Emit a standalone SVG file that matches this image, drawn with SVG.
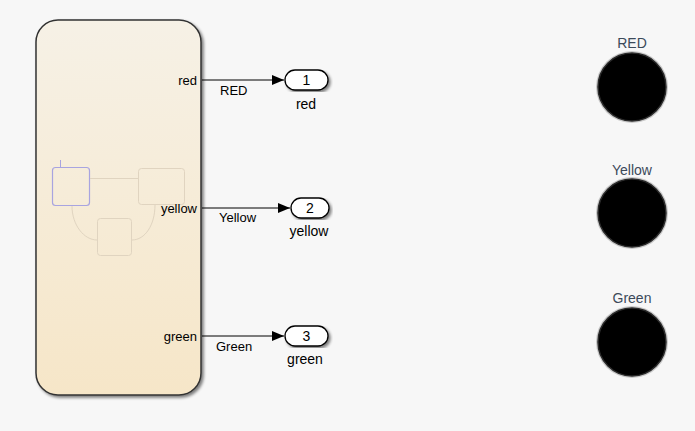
<svg xmlns="http://www.w3.org/2000/svg" width="695" height="431" viewBox="0 0 695 431">
<style>
.lbl{font-family:"Liberation Sans",Arial,sans-serif;font-size:13px;fill:#000}
.lamp-lbl{font-family:"Liberation Sans",Arial,sans-serif;font-size:14px;fill:#3c4a5a;text-anchor:middle}
.num{font-family:"Liberation Sans",Arial,sans-serif;font-size:14px;fill:#000;text-anchor:middle}
.port{fill:#fff;stroke:#000;stroke-width:1.3}
.sig{stroke:#000;stroke-width:1;fill:none}
.mini{fill:none;stroke:#e0d4c0;stroke-width:1}
.lamp-outer{fill:#c8c8c8}
.lamp{fill:#000;stroke:#2a2a2a;stroke-width:1.5}
</style>
<defs>
<linearGradient id="chartGrad" x1="0" y1="0" x2="0" y2="1">
<stop offset="0" stop-color="#f6f1e6"/>
<stop offset="1" stop-color="#f6e6c8"/>
</linearGradient>
<filter id="sh" x="-10%" y="-10%" width="120%" height="120%">
<feGaussianBlur in="SourceAlpha" stdDeviation="1.5"/>
<feOffset dx="2" dy="2"/>
<feComponentTransfer><feFuncA type="linear" slope="0.5"/></feComponentTransfer>
<feMerge><feMergeNode/><feMergeNode in="SourceGraphic"/></feMerge>
</filter>
<marker id="arr" markerWidth="12" markerHeight="10" refX="12" refY="5" orient="auto" markerUnits="userSpaceOnUse">
<path d="M0,0 L12,5 L0,10 Z" fill="#000"/>
</marker>
</defs>
<rect width="695" height="431" fill="#f7f7f7"/>

<g id="chart">
<rect x="36" y="20" width="165" height="375" rx="22" ry="22" fill="url(#chartGrad)" stroke="#333" stroke-width="1.5" filter="url(#sh)"/>
<g id="mini-chart">
<line x1="60.5" y1="160" x2="60.5" y2="167" stroke="#a8a4e0" stroke-width="1"/>
<rect x="52.5" y="167.5" width="37" height="38" rx="3" fill="none" stroke="#a8a4e0" stroke-width="1.2"/>
<rect x="138.5" y="168.5" width="46" height="36" rx="3" class="mini"/>
<rect x="97.5" y="218.5" width="34" height="37" rx="3" class="mini"/>
<line x1="90" y1="178.5" x2="138" y2="178.5" class="mini"/>
<path d="M72,206 C72,225 84,240 97,240" class="mini"/>
<path d="M132,240 C145,240 155,225 155,205" class="mini"/>
</g>
<text class="lbl" x="197" y="85" text-anchor="end">red</text>
<text class="lbl" x="197" y="213" text-anchor="end">yellow</text>
<text class="lbl" x="197" y="341" text-anchor="end">green</text>
</g>

<g id="connectors">
<line x1="202" y1="80" x2="284" y2="80" class="sig" marker-end="url(#arr)"/>
<line x1="202" y1="208" x2="290" y2="208" class="sig" marker-end="url(#arr)"/>
<line x1="202" y1="336" x2="284" y2="336" class="sig" marker-end="url(#arr)"/>
<text class="lbl" x="220" y="95">RED</text>
<text class="lbl" x="219" y="222">Yellow</text>
<text class="lbl" x="216" y="351">Green</text>
</g>

<g id="out1">
<rect x="285" y="70" width="43" height="20" rx="10" class="port" filter="url(#sh)"/>
<text class="num" x="306.5" y="85">1</text>
<text class="num" x="306" y="109">red</text>
</g>
<g id="out2">
<rect x="291" y="198" width="38" height="20" rx="10" class="port" filter="url(#sh)"/>
<text class="num" x="310" y="213">2</text>
<text class="num" x="309" y="236">yellow</text>
</g>
<g id="out3">
<rect x="285" y="326" width="43" height="20" rx="10" class="port" filter="url(#sh)"/>
<text class="num" x="306.5" y="341">3</text>
<text class="num" x="305" y="364">green</text>
</g>

<g id="lamp-red">
<text class="lamp-lbl" x="632" y="48">RED</text>
<circle cx="632" cy="87" r="36" class="lamp-outer"/>
<circle cx="632" cy="87" r="34" class="lamp"/>
</g>
<g id="lamp-yellow">
<text class="lamp-lbl" x="632" y="175">Yellow</text>
<circle cx="632" cy="213" r="36" class="lamp-outer"/>
<circle cx="632" cy="213" r="34" class="lamp"/>
</g>
<g id="lamp-green">
<text class="lamp-lbl" x="632" y="303">Green</text>
<circle cx="632" cy="342" r="36" class="lamp-outer"/>
<circle cx="632" cy="342" r="34" class="lamp"/>
</g>
</svg>
